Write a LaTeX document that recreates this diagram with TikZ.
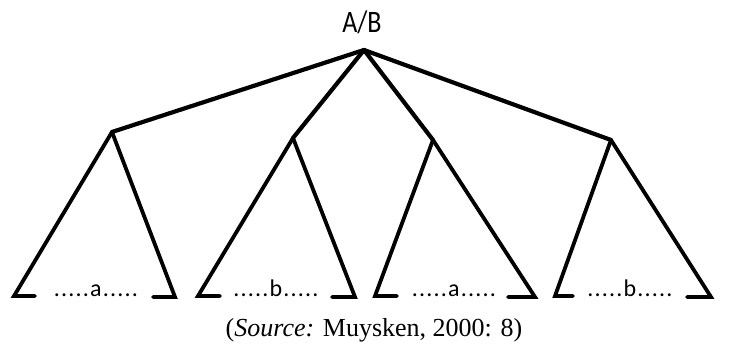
\documentclass[tikz,border=0pt]{standalone}
\usepackage{fontspec}
\setmainfont{Liberation Serif}
\newfontfamily\labfont{Carlito}
\newfontfamily\dotfont[LetterSpace=5]{Carlito}
\begin{document}
\begin{tikzpicture}[x=1pt,y=-1pt,
  branch/.style={line width=4.2pt, line cap=round},
  leg/.style={line width=3.8pt, line cap=round, line join=miter, miter limit=4},
  dots/.style={anchor=base, inner sep=0pt, font=\dotfont\fontsize{24}{28}\selectfont},
  rootlab/.style={anchor=base, inner sep=0pt, font=\labfont\fontsize{26}{30}\selectfont},
  caption/.style={anchor=base, inner sep=0pt, font=\fontsize{26}{30}\selectfont}]
\useasboundingbox (0,0) rectangle (746,344);
% root
\coordinate (r) at (364,50);
\node[rootlab] (rl) at (362,33) {\scalebox{1}[1.2]{A/B}};
% apexes
\coordinate (a1) at (112,132);
\coordinate (a2) at (293,138);
\coordinate (a3) at (433,140);
\coordinate (a4) at (611,140);
% corners and foot ends
\coordinate (l1f) at (35,296);  \coordinate (l1c) at (14,296);
\coordinate (r1c) at (175,297); \coordinate (r1f) at (153,297);
\coordinate (l2f) at (220,296); \coordinate (l2c) at (198,296);
\coordinate (r2c) at (355,297); \coordinate (r2f) at (332,297);
\coordinate (l3f) at (397,296); \coordinate (l3c) at (375,296);
\coordinate (r3c) at (535,297); \coordinate (r3f) at (508,297);
\coordinate (l4f) at (573,296); \coordinate (l4c) at (555,296);
\coordinate (r4c) at (711,297); \coordinate (r4f) at (687,297);
% branches from root
\draw[branch] (r) -- (a1);
\draw[branch] (r) -- (a2);
\draw[branch] (r) -- (a3);
\draw[branch] (r) -- (a4);
% triangles
\foreach \i in {1,2,3,4}{
  \draw[leg] (l\i f) -- (l\i c) -- (a\i);
  \draw[leg] (a\i) -- (r\i c) -- (r\i f);
}
% labels
\node[dots] (t1) at (96,296) {.....a.....};
\node[dots] (t2) at (276,296) {.....b.....};
\node[dots] (t3) at (454,296) {.....a.....};
\node[dots] (t4) at (630,296) {.....b.....};
% caption
\node[caption] (cap) at (374,336) {(\textit{Source:} Muysken, 2000: 8)};
\end{tikzpicture}
\end{document}
